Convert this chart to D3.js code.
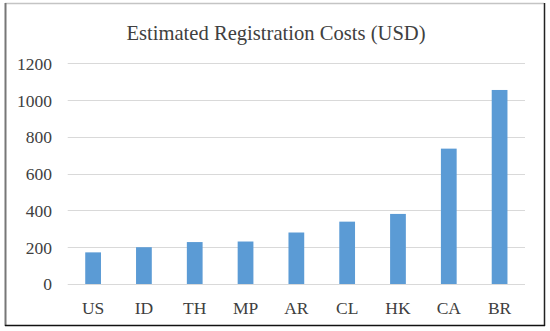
<!DOCTYPE html>
<html>
<head>
<meta charset="utf-8">
<script src="https://cdn.jsdelivr.net/npm/d3@7"></script>
<style>
  html, body { margin: 0; padding: 0; background: #fff; }
  svg { display: block; }
</style>
</head>
<body>
<script>
const categories = ["US", "ID", "TH", "MP", "AR", "CL", "HK", "CA", "BR"];
const costs = [172, 200, 228, 231, 280, 339, 381, 736, 1055];
const yTicks = [0, 200, 400, 600, 800, 1000, 1200];
const title = "Estimated Registration Costs (USD)";

const W = 550, H = 331;
const FONT = "'Liberation Serif', 'Times New Roman', serif";
const svg = d3.select("body").append("svg").attr("width", W).attr("height", H);

// frame
svg.append("rect").attr("x", 0).attr("y", 0).attr("width", W).attr("height", H).attr("fill", "#fff");
svg.append("line").attr("x1", 5).attr("x2", 544).attr("y1", 3.5).attr("y2", 3.5).attr("stroke", "#c4c4c4").attr("stroke-width", 1.5);
svg.append("line").attr("x1", 5.5).attr("x2", 5.5).attr("y1", 3).attr("y2", 326).attr("stroke", "#777").attr("stroke-width", 2);
svg.append("line").attr("x1", 544.5).attr("x2", 544.5).attr("y1", 3).attr("y2", 326).attr("stroke", "#222").attr("stroke-width", 1.5);
svg.append("line").attr("x1", 5).attr("x2", 545).attr("y1", 325.5).attr("y2", 325.5).attr("stroke", "#111").attr("stroke-width", 1.5);

const plotLeft = 67.7, plotRight = 525, plotTop = 63.3, plotBottom = 284;
const x = d3.scaleBand().domain(categories).range([plotLeft, plotRight]).paddingInner(0.69).paddingOuter(0.345);
const y = d3.scaleLinear().domain([0, 1200]).range([plotBottom, plotTop]);

// gridlines
svg.append("g").selectAll("line").data(yTicks).join("line")
  .attr("x1", plotLeft).attr("x2", plotRight)
  .attr("y1", d => Math.round(y(d)) + 0.5).attr("y2", d => Math.round(y(d)) + 0.5)
  .attr("stroke", "#d9d9d9").attr("stroke-width", 1.2);

// y axis labels
const yAxis = d3.axisLeft(y).tickValues(yTicks).tickFormat(d3.format("d")).tickSize(0).tickPadding(0);
const gy = svg.append("g").attr("transform", `translate(${52},0)`).call(yAxis)
  .attr("font-family", FONT).attr("font-size", 17.5);
gy.select(".domain").remove();
gy.selectAll("text").attr("font-family", FONT)
  .attr("font-size", 17.5).attr("fill", "#404040").attr("dy", "0.34em");

// bars
svg.append("g").selectAll("rect").data(categories).join("rect")
  .attr("x", d => x(d))
  .attr("width", x.bandwidth())
  .attr("y", (d, i) => y(costs[i]))
  .attr("height", (d, i) => y(0) - y(costs[i]))
  .attr("fill", "#5b9bd5");

// x axis labels
const xAxis = d3.axisBottom(x).tickSize(0).tickPadding(0);
const gx = svg.append("g").attr("transform", `translate(0,${plotBottom})`).call(xAxis)
  .attr("font-family", FONT).attr("font-size", 17.5);
gx.select(".domain").remove();
gx.selectAll("text").attr("font-family", FONT)
  .attr("font-size", 17.5).attr("fill", "#404040").attr("dy", 0).attr("y", 29.5);

// title
svg.append("text").attr("x", 276).attr("y", 40).attr("text-anchor", "middle")
  .attr("font-family", FONT)
  .attr("font-size", 20.6).attr("fill", "#404040").text(title);
</script>
</body>
</html>
